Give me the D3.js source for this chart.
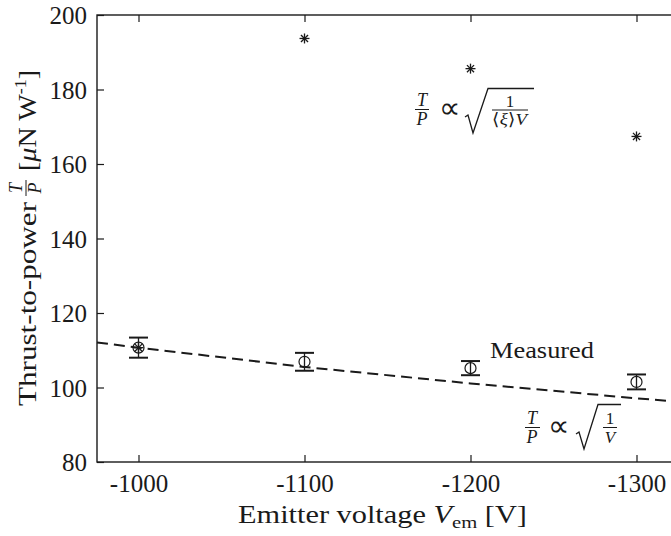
<!DOCTYPE html>
<html>
<head>
<meta charset="utf-8">
<script src="https://cdn.jsdelivr.net/npm/d3@7"></script>
<style>
  body { margin: 0; background: #fff; }
  svg { display: block; }
</style>
</head>
<body>
<svg width="671" height="536"></svg>
<script>
// data
var voltages = [-1000, -1100, -1200, -1300];
var measured = [110.7, 106.9, 105.2, 101.5];
var measuredErr = [2.7, 2.4, 1.9, 2.0];
var xiModel = [110.7, 193.7, 185.6, 167.4];
var fitVolts = [-975, -1000, -1100, -1200, -1300, -1325];
var fitValues = [112.1, 110.7, 105.5, 101.1, 97.1, 96.2];
var xTicks = [-1000, -1100, -1200, -1300];
var yTicks = [80, 100, 120, 140, 160, 180, 200];

var svg = d3.select('svg');
var ink = '#1a1a1a';

var x = d3.scaleLinear().domain([-975, -1325]).range([97, 678]);
var y = d3.scaleLinear().domain([80, 200]).range([462, 15]);

// box
svg.append('rect')
  .attr('x', x(-975)).attr('y', y(200))
  .attr('width', x(-1325) - x(-975)).attr('height', y(80) - y(200))
  .attr('fill', 'none').attr('stroke', ink).attr('stroke-width', 1.4);

// axes with inward ticks
var xAxis = svg.append('g')
  .attr('transform', 'translate(0,' + y(80) + ')')
  .call(d3.axisBottom(x).tickValues(xTicks).tickSizeInner(-7).tickSizeOuter(0)
    .tickPadding(12).tickFormat(function(d) { return String(d); }));
svg.append('g')
  .attr('transform', 'translate(0,' + y(200) + ')')
  .call(d3.axisTop(x).tickValues(xTicks).tickSizeInner(-7).tickSizeOuter(0).tickFormat(''));
var yAxis = svg.append('g')
  .attr('transform', 'translate(' + x(-975) + ',0)')
  .call(d3.axisLeft(y).tickValues(yTicks).tickSizeInner(-7).tickSizeOuter(0).tickPadding(10));
svg.append('g')
  .attr('transform', 'translate(' + x(-1325) + ',0)')
  .call(d3.axisRight(y).tickValues(yTicks).tickSizeInner(-7).tickSizeOuter(0).tickFormat(''));

svg.selectAll('.domain').remove();
svg.selectAll('.tick line').attr('stroke', ink).attr('stroke-width', 1.2);
svg.selectAll('.tick text')
  .attr('font-size', 25).attr('fill', ink);
xAxis.selectAll('.tick text').attr('dy', '0.71em');
yAxis.selectAll('.tick text').attr('dy', '0.34em');

// dashed sqrt(1/V) line
var line = d3.line()
  .x(function(d, i) { return x(fitVolts[i]); })
  .y(function(d) { return y(d); });
svg.append('path')
  .datum(fitValues)
  .attr('d', line)
  .attr('fill', 'none').attr('stroke', ink)
  .attr('stroke-width', 2).attr('stroke-dasharray', '11,6');

// measured with error bars
var meas = svg.append('g').selectAll('g')
  .data(voltages).enter().append('g')
  .attr('transform', function(d) { return 'translate(' + x(d) + ',0)'; });
meas.append('line')
  .attr('y1', function(d, i) { return y(measured[i] - measuredErr[i]); })
  .attr('y2', function(d, i) { return y(measured[i] + measuredErr[i]); })
  .attr('stroke', ink).attr('stroke-width', 1.3);
[-1, 1].forEach(function(s) {
  meas.append('line')
    .attr('x1', -9.5).attr('x2', 9.5)
    .attr('y1', function(d, i) { return y(measured[i] + s * measuredErr[i]); })
    .attr('y2', function(d, i) { return y(measured[i] + s * measuredErr[i]); })
    .attr('stroke', ink).attr('stroke-width', 2);
});
meas.append('circle')
  .attr('cy', function(d, i) { return y(measured[i]); })
  .attr('r', 5.5)
  .attr('fill', 'none').attr('stroke', ink).attr('stroke-width', 1.2);

// asterisk markers
var stars = svg.append('g').selectAll('g')
  .data(voltages).enter().append('g')
  .attr('transform', function(d, i) { return 'translate(' + x(d) + ',' + y(xiModel[i]) + ')'; });
[[0, 1], [1, 0], [0.7071, 0.7071], [0.7071, -0.7071]].forEach(function(v) {
  stars.append('line')
    .attr('x1', -5 * v[0]).attr('y1', -5 * v[1])
    .attr('x2', 5 * v[0]).attr('y2', 5 * v[1])
    .attr('stroke', ink).attr('stroke-width', 1.3);
});

// small helpers for the math bits
function txt(g, tx, ty, s, size, italic, anchor) {
  return g.append('text').attr('x', tx).attr('y', ty)
    .attr('font-size', size)
    .attr('font-style', italic ? 'italic' : 'normal')
    .attr('text-anchor', anchor || 'middle')
    .text(s);
}
function hline(g, x1, x2, yy, w) {
  g.append('line').attr('x1', x1).attr('x2', x2).attr('y1', yy).attr('y2', yy)
    .attr('stroke', ink).attr('stroke-width', w || 1);
}
function radical(g, x0, yTick, yBot, xTop, yTop, xEnd) {
  g.append('path')
    .attr('d', 'M' + x0 + ',' + (yTick + 2) + 'L' + (x0 + 3) + ',' + yTick +
      'L' + (x0 + 8) + ',' + yBot + 'L' + xTop + ',' + yTop + 'L' + xEnd + ',' + yTop)
    .attr('fill', 'none').attr('stroke', ink).attr('stroke-width', 1.3)
    .attr('stroke-linejoin', 'miter');
}

// T/P ∝ sqrt(1/(<xi>V))
var m1 = svg.append('g');
txt(m1, 422, 106, 'T', 18, true);
hline(m1, 415, 429, 109.5);
txt(m1, 422, 125, 'P', 18, true);
txt(m1, 449, 118, '\u221D', 30, false);
radical(m1, 465, 115, 133, 488, 88.5, 534);
txt(m1, 510, 107, '1', 17, false);
hline(m1, 492, 528, 110);
var d1 = m1.append('text').attr('x', 492).attr('y', 125).attr('font-size', 17)
  .attr('textLength', 35).attr('lengthAdjust', 'spacingAndGlyphs');
d1.append('tspan').text('\u27E8');
d1.append('tspan').attr('font-style', 'italic').text('\u03BE');
d1.append('tspan').text('\u27E9');
d1.append('tspan').attr('font-style', 'italic').text('V');

// T/P ∝ sqrt(1/V)
var m2 = svg.append('g');
txt(m2, 532, 424, 'T', 18, true);
hline(m2, 525, 540, 427.5);
txt(m2, 532, 443, 'P', 18, true);
txt(m2, 558, 436, '\u221D', 30, false);
radical(m2, 576, 432, 449, 598, 404.5, 621);
txt(m2, 610, 424, '1', 17, false);
hline(m2, 603, 617, 427.5);
txt(m2, 610, 443, 'V', 17, true);

// Measured label
svg.append('text').attr('x', 490).attr('y', 358)
  .attr('font-size', 24).attr('textLength', 104).attr('lengthAdjust', 'spacingAndGlyphs')
  .text('Measured');

// x label
var xl = svg.append('text').attr('x', 238).attr('y', 523)
  .attr('font-size', 25).attr('textLength', 289).attr('lengthAdjust', 'spacingAndGlyphs');
xl.append('tspan').text('Emitter voltage ');
xl.append('tspan').attr('font-style', 'italic').text('V');
xl.append('tspan').attr('font-size', 17).attr('dy', 5).text('em');
xl.append('tspan').attr('dy', -5).text(' [V]');

// y label, rotated
var yl = svg.append('g').attr('transform', 'translate(36,406) rotate(-90)');
yl.append('text').attr('x', 0).attr('y', 0)
  .attr('font-size', 25).attr('textLength', 204).attr('lengthAdjust', 'spacingAndGlyphs')
  .text('Thrust-to-power');
txt(yl, 218, -14, 'T', 18, true);
hline(yl, 210, 226, -10);
txt(yl, 218, 5, 'P', 18, true);
var yu = yl.append('text').attr('x', 235).attr('y', 0)
  .attr('font-size', 25).attr('textLength', 101).attr('lengthAdjust', 'spacingAndGlyphs');
yu.append('tspan').text('[');
yu.append('tspan').attr('font-style', 'italic').text('\u03BC');
yu.append('tspan').text('N W');
yu.append('tspan').attr('font-size', 16).attr('dy', -10).text('-1');
yu.append('tspan').attr('dy', 10).text(']');

// one serif face for every label
svg.selectAll('g').attr('font-family', null);
svg.selectAll('text').attr('font-family', 'Liberation Serif').attr('fill', ink);
</script>
</body>
</html>
